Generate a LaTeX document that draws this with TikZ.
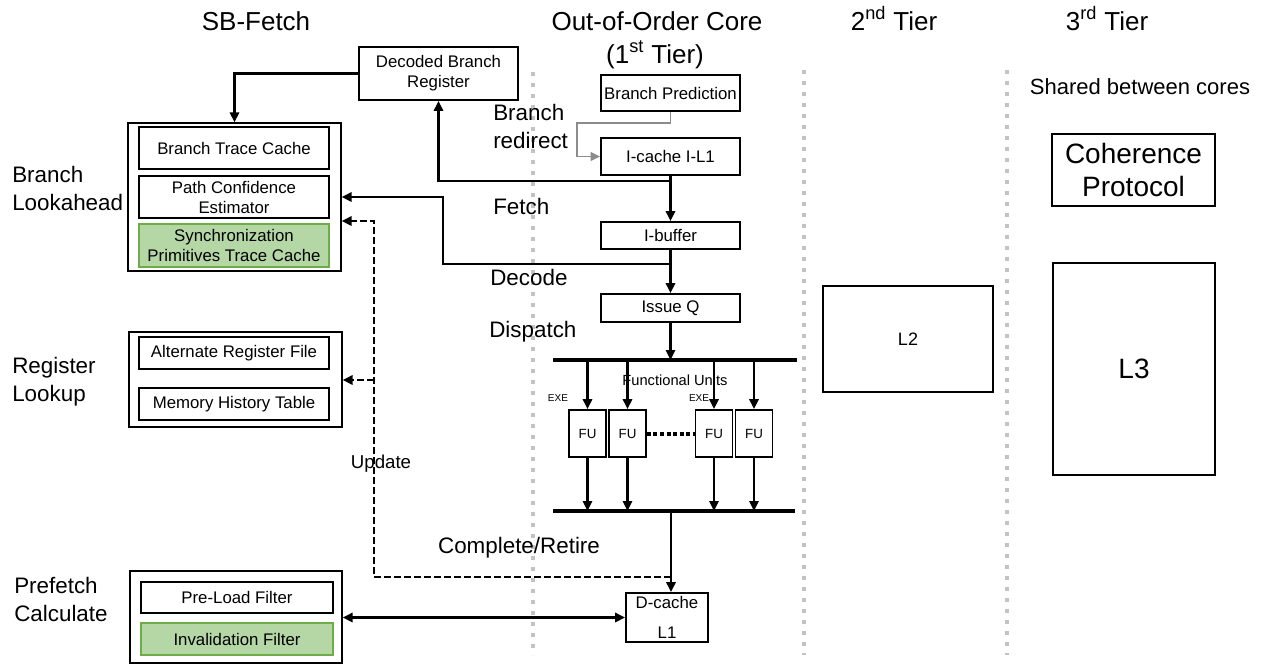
\documentclass[tikz,border=0pt]{standalone}
\usepackage{fontspec}
\setmainfont{Liberation Sans}
\usetikzlibrary{arrows.meta}
\definecolor{gfill}{RGB}{180,215,165}
\definecolor{gdraw}{RGB}{110,172,72}
\definecolor{dotgray}{RGB}{195,195,195}
\definecolor{arrgray}{RGB}{140,140,140}
\begin{document}
\begin{tikzpicture}[x=0.75pt,y=-0.75pt,
  bx/.style={draw, line width=1.4pt, inner sep=0pt, align=center, font=\fontsize{12.6pt}{15pt}\selectfont},
  outerbox/.style={draw, line width=1pt, inner sep=0pt},
  sz/.style 2 args={minimum width=#1*0.75pt, minimum height=#2*0.75pt},
  grn/.style={fill=gfill, draw=gdraw},
  lbl/.style={inner sep=0pt, font=\fontsize{16.8pt}{21pt}\selectfont, align=left},
  hdr/.style={inner sep=0pt, font=\fontsize{19.5pt}{24.75pt}\selectfont},
  tip/.style={},
  arr/.style={line width=1.6pt, -{Triangle[length=7.5pt,width=7pt]}},
  darrow/.style={line width=1.6pt, {Triangle[length=7.5pt,width=7pt]}-{Triangle[length=7.5pt,width=7pt]}},
  garr/.style={line width=1.4pt, draw=arrgray, -{Triangle[length=7pt,width=6.5pt]}},
  dsh/.style={line width=1.6pt, dash pattern=on 5pt off 2.5pt},
  darr/.style={dsh, -{Triangle[length=7.5pt,width=7pt]}},
  bus/.style={line width=3.2pt},
  fudots/.style={line width=3pt, dash pattern=on 3pt off 1.9pt},
  divider/.style={line width=3pt, draw=dotgray, dash pattern=on 3pt off 5.25pt}
]
\useasboundingbox (0,0) rectangle (1265,665);

% dividers
\draw[divider] (533,72) -- (533,655);
\draw[divider] (804,70) -- (804,655);
\draw[divider] (1007,70) -- (1007,655);

% headers
\node[hdr, anchor=base] (h1) at (256,30) {SB-Fetch};
\node[hdr, anchor=base] (h2) at (657,30) {Out-of-Order Core};
\node[hdr, anchor=base] (h2b) at (655,63) {(1\textsuperscript{st} Tier)};
\node[hdr, anchor=base] (h3) at (894,30) {2\textsuperscript{nd} Tier};
\node[hdr, anchor=base] (h4) at (1107,30) {3\textsuperscript{rd} Tier};
\node[inner sep=0pt, anchor=base, font=\fontsize{16.5pt}{20pt}\selectfont] (sh) at (1140,94) {Shared between cores};

% left labels
\node[lbl, anchor=west] (lba) at (12,188) {Branch\\Lookahead};
\node[lbl, anchor=west] (lrl) at (12,382) {Register\\Lookup};
\node[lbl, anchor=west] (lpc) at (14,599) {Prefetch\\Calculate};

% SB-Fetch blocks
\node[outerbox, sz={213}{148}] (bl) at (234.5,197) {};
\node[bx, sz={190}{42}] (btc) at (234,148) {Branch Trace Cache};
\node[bx, sz={190}{42}] (pce) at (234,197) {Path Confidence\\Estimator};
\node[bx, grn, sz={190}{43}] (spt) at (234,245.5) {Synchronization\\Primitives Trace Cache};

\node[outerbox, sz={213}{95}] (rl) at (235.5,379.5) {};
\node[bx, sz={190}{32}] (arf) at (234,353) {Alternate Register File};
\node[bx, sz={190}{32}] (mht) at (234,404) {Memory History Table};

\node[outerbox, sz={212}{92}] (pf) at (236,617) {};
\node[bx, sz={192}{31}] (plf) at (237,597.5) {Pre-Load Filter};
\node[bx, grn, sz={192}{32}] (ivf) at (237,639) {Invalidation Filter};

\node[bx, sz={159}{53}] (dbr) at (438.5,73.5) {Decoded Branch\\Register};

% core
\node[bx, sz={139}{36}] (bp) at (670.5,93) {Branch Prediction};
\node[bx, sz={139}{37}] (ic) at (670.5,156.5) {I-cache I-L1};
\node[bx, sz={139}{27}] (ib) at (670.5,235.5) {I-buffer};
\node[bx, sz={139}{28}] (iq) at (670.5,308) {Issue Q};

\node[lbl, anchor=west] (brr) at (493,126) {Branch\\redirect};
\node[lbl, anchor=base west] (fet) at (493,214) {Fetch};
\node[lbl, anchor=base west] (dec) at (490,285) {Decode};
\node[lbl, anchor=base west] (dis) at (489,337) {Dispatch};
\node[lbl, anchor=base] (cr) at (519,553) {Complete/Retire};
\node[inner sep=0pt, anchor=base, font=\fontsize{14pt}{17pt}\selectfont] (upd) at (381,468) {Update};

\node[inner sep=0pt, anchor=base, font=\fontsize{11pt}{13pt}\selectfont] (fun) at (675,385) {Functional Units};
\node[inner sep=0pt, anchor=base, font=\fontsize{7.5pt}{9pt}\selectfont] (exe1) at (558,401) {EXE};
\node[inner sep=0pt, anchor=base, font=\fontsize{7.5pt}{9pt}\selectfont] (exe2) at (699,401) {EXE};

\tikzset{fubox/.style={bx, sz={37}{47}, font=\fontsize{10pt}{12pt}\selectfont}}
\node[fubox] (fu1) at (587.5,433.5) {FU};
\node[fubox] (fu2) at (627.5,433.5) {FU};
\node[fubox] (fu3) at (714,433.5) {FU};
\node[fubox] (fu4) at (754,433.5) {FU};

\node[bx, sz={82}{49}] (dc) at (667,617.5) {D-cache\\[7.5pt]L1};

% tiers 2 and 3
\node[bx, sz={170}{106}, font=\fontsize{13.5pt}{16pt}\selectfont] (l2) at (908,339) {L2};
\node[bx, sz={163}{72}, font=\fontsize{21pt}{25pt}\selectfont] (coh) at (1133.5,170) {Coherence\\Protocol};
\node[bx, sz={162}{212}, font=\fontsize{21pt}{25pt}\selectfont] (l3) at (1134,369) {L3};

% buses
\coordinate (tbL) at (553,360);
\coordinate (tbR) at (797,360);
\coordinate (bbL) at (553,511);
\coordinate (bbR) at (795,511);
\draw[bus] (tbL) -- (tbR);
\draw[bus] (bbL) -- (bbR);

% core connectors
\draw[garr] (bp.south) |- (577,123) |- (ic.west);
\draw[arr] (ic.south) -- (ib.north);
\draw[arr] (ib.south) -- (iq.north);
\draw[arr] (iq.south) -- (iq.south |- tbL);
\foreach \f in {fu1,fu2,fu3,fu4}{
  \draw[arr] (\f.north |- tbL) -- (\f.north);
  \draw[arr] (\f.south) -- (\f.south |- bbL);
}
\draw[fudots] (fu2.east) -- (fu3.west);
\coordinate (bbm) at (671,511);
\draw[arr] (bbm) -- (bbm |- dc.north);

% feedback connectors
\draw[arr] (dbr.west) -| (bl.north);
\coordinate (f1) at (671,181);
\draw[arr] (f1) -| (dbr.south);
\coordinate (f2) at (671,264);
\coordinate (f2b) at (443,197);
\draw[arr] (f2) -| (f2b) -- (f2b -| bl.east);

\coordinate (dj) at (671,577);
\coordinate (dv) at (374,577);
\coordinate (d1) at (374,221);
\coordinate (d2) at (374,380);
\draw[darr] (dj) -- (dv) -- (d1) -- (d1 -| bl.east);
\draw[darr] (d2) -- (d2 -| rl.east);

\draw[darrow] (pf.east |- dc.west) -- (dc.west);
\end{tikzpicture}
\end{document}
